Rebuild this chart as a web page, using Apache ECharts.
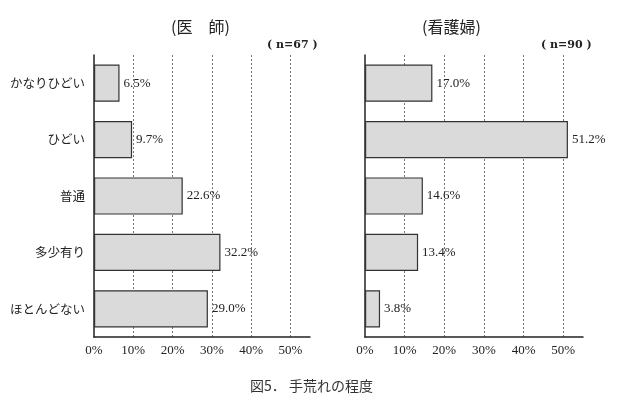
<!DOCTYPE html>
<html><head><meta charset="utf-8">
<script src="https://cdn.jsdelivr.net/npm/echarts@6/dist/echarts.min.js"></script>
<style>html,body{margin:0;padding:0;background:#fff}#c{width:627px;height:409px}</style>
</head><body><div id="c"></div>
<script>
const categories = ['かなりひどい','ひどい','普通','多少有り','ほとんどない'];
const doctorValues = [6.5, 9.7, 22.6, 32.2, 29.0];
const nurseValues = [17.0, 51.2, 14.6, 13.4, 3.8];
const xTicks = [0,10,20,30,40,50];

const serif = '"Liberation Serif","DejaVu Serif","Noto Sans CJK JP",serif';
const dserif = '"DejaVu Serif",serif';
const jp = '"Noto Sans CJK JP",sans-serif';

function xAx(gi){
  return {type:'value', gridIndex:gi, min:0, max:55, interval:10,
    axisLine:{show:true, lineStyle:{color:'#222', width:1.5}},
    axisTick:{show:false},
    axisLabel:{color:'#222', fontFamily:serif, fontSize:13, margin:7, showMaxLabel:false,
      formatter:v=> xTicks.indexOf(v)>=0 ? v+'%' : ''},
    splitLine:{show:true, showMinLine:false, showMaxLine:false,
      lineStyle:{color:'#555', type:[2,2], width:0.8}}};
}
function yAx(gi, showLabels){
  return {type:'category', gridIndex:gi, data:categories, inverse:true,
    axisLine:{show:true, lineStyle:{color:'#222', width:1.5}},
    axisTick:{show:false},
    axisLabel:{show:showLabels, color:'#222', fontFamily:jp, fontSize:12.5, margin:9}};
}
function bar(gi, vals){
  return {type:'bar', xAxisIndex:gi, yAxisIndex:gi, data:vals, barWidth:'66%',
    itemStyle:{color:'#dadada', borderColor:'#333', borderWidth:1.2},
    label:{show:true, position:'right', distance:4, color:'#222', fontFamily:serif, fontSize:13,
      formatter:p=>p.value.toFixed(1)+'%'}, silent:true, animation:false};
}
const chart = echarts.init(document.getElementById('c'));
chart.setOption({
  animation:false,
  backgroundColor:'#fff',
  grid:[{left:94, right:317, top:55, bottom:72},{left:365, right:44, top:55, bottom:72}],
  xAxis:[xAx(0), xAx(1)],
  yAxis:[yAx(0,true), yAx(1,false)],
  series:[bar(0, doctorValues), bar(1, nurseValues)],
  graphic:[
    {type:'text', left:171, top:19, style:{text:'(医　師)', font:'16px '+jp, fill:'#222'}},
    {type:'text', left:267, top:40, style:{text:'( n=67 )', font:'bold 11px '+dserif, fill:'#222'}},
    {type:'text', left:422, top:19, style:{text:'(看護婦)', font:'16px '+jp, fill:'#222'}},
    {type:'text', left:541, top:40, style:{text:'( n=90 )', font:'bold 11px '+dserif, fill:'#222'}},
    {type:'text', left:250, top:379, style:{text:'図5． 手荒れの程度', font:'14px '+jp, fill:'#333'}}
  ]
});
</script></body></html>
